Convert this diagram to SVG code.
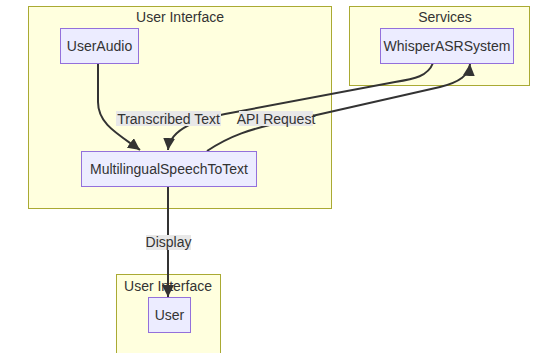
<svg xmlns="http://www.w3.org/2000/svg" width="534" height="353" viewBox="0 0 534 353">
<style>
text{font-family:"Liberation Sans",Arial,sans-serif;font-size:14px;fill:#333;text-anchor:middle}
.cl{fill:#ffffde;stroke:#aaaa33;stroke-width:1}
.nd{fill:#ececff;stroke:#9370db;stroke-width:1}
.ed{fill:none;stroke:#333;stroke-width:2}
.lb{fill:#e8e8e8}
</style>
<defs>
<marker id="ah" viewBox="0 0 10 10" refX="10" refY="5" markerWidth="12" markerHeight="12" markerUnits="userSpaceOnUse" orient="auto">
<path d="M0,0 L10,5 L0,10 z" fill="#333"/>
</marker>
</defs>
<rect width="534" height="353" fill="#fff"/>
<g id="cluster-ui-top">
<rect class="cl" x="28.5" y="6.5" width="303" height="202"/>
<text x="180" y="22">User Interface</text>
</g>
<g id="cluster-services">
<rect class="cl" x="349.5" y="6.5" width="180" height="79"/>
<text x="445" y="22">Services</text>
</g>
<g id="cluster-ui-bottom">
<rect class="cl" x="116.5" y="274.5" width="104" height="90"/>
<text x="168" y="291">User Interface</text>
</g>
<g id="edges">
<path class="ed" d="M98,63 L98,102 C98,124 118,134 140,150" marker-end="url(#ah)"/>
<path class="ed" d="M433,63 C428,76 415,79 395,82 L225,114 C200,119 170,128 168,150" marker-end="url(#ah)"/>
<path class="ed" d="M207,151 C228,137 250,128 290,121 L440,87 C460,82 469,75 470,64" marker-end="url(#ah)"/>
<path class="ed" d="M168,186 L168,297" marker-end="url(#ah)"/>
<rect class="lb" x="116" y="111" width="105" height="15"/>
<text x="168.5" y="123.5">Transcribed Text</text>
<rect class="lb" x="239" y="111" width="74" height="15"/>
<text x="276" y="123.5">API Request</text>
<rect class="lb" x="146" y="235" width="45" height="15"/>
<text x="168.5" y="247">Display</text>
</g>
<g id="node-useraudio">
<rect class="nd" x="60.5" y="28.5" width="78" height="35"/>
<text x="99.5" y="51">UserAudio</text>
</g>
<g id="node-whisper">
<rect class="nd" x="380.5" y="28.5" width="133" height="35"/>
<text x="447" y="51">WhisperASRSystem</text>
</g>
<g id="node-mst">
<rect class="nd" x="81.5" y="151.5" width="175" height="35"/>
<text x="169" y="174">MultilingualSpeechToText</text>
</g>
<g id="node-user">
<rect class="nd" x="148.5" y="297.5" width="42" height="35"/>
<text x="169.5" y="320">User</text>
</g>
</svg>
